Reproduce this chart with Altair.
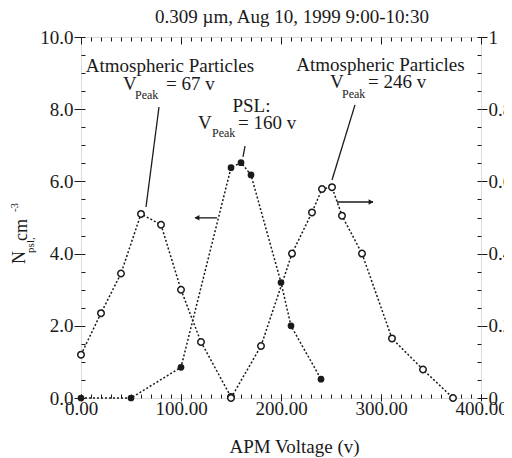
import altair as alt
import pandas as pd

# ---------------- data ----------------
# PSL (filled dots, left axis, N_psl in cm^-3)
psl_v = [0, 50, 100, 150, 160, 170, 200, 210, 240]
psl_n = [0.0, 0.0, 0.85, 6.38, 6.52, 6.18, 3.2, 2.0, 0.52]

# Atmospheric particles, V_peak = 67 v (open circles, right axis)
atm1_v = [0, 20, 40, 60, 80, 100, 120, 150]
atm1_f = [0.12, 0.235, 0.345, 0.51, 0.48, 0.30, 0.155, 0.003]

# Atmospheric particles, V_peak = 246 v (open circles, right axis)
atm2_v = [150, 180, 211, 231, 241, 251, 261, 281, 311, 342, 372]
atm2_f = [0.0, 0.144, 0.40, 0.514, 0.579, 0.584, 0.505, 0.40, 0.165, 0.079, 0.0]

x_ticks = [0, 100, 200, 300, 400]
yl_ticks = [0, 2, 4, 6, 8, 10]
yr_ticks = [0, 0.2, 0.4, 0.6, 0.8, 1.0]

title_text = "0.309 \u00b5m, Aug 10, 1999 9:00-10:30"
x_title = "APM Voltage (v)"

# annotations (data coordinates: voltage, left-axis units)
ann_center_txt = ["Atmospheric Particles", "Atmospheric Particles", "PSL:"]
ann_center_v = [89, 299.5, 170.5]
ann_center_n = [9.20, 9.22, 8.09]

ann_left_txt = ["V", "= 67 v", "V", "= 160  v", "V", "= 246 v"]
ann_left_v = [42, 85, 117, 157, 249, 287]
ann_left_n = [8.70, 8.70, 7.62, 7.62, 8.75, 8.75]

ann_sub_txt = ["Peak", "Peak", "Peak"]
ann_sub_v = [54, 131, 261]
ann_sub_n = [8.39, 7.34, 8.42]

lead_v = [78, 164, 274, 114, 256]
lead_v2 = [65, 162, 251, 136, 292]
lead_n = [8.06, 6.98, 8.12, 4.99, 5.43]
lead_n2 = [5.29, 6.68, 6.04, 4.99, 5.43]

head_v = [116, 290]
head_n = [4.99, 5.43]
head_shape = ["triangle-left", "triangle-right"]

ytitle_big_txt = ["N", "cm"]
ytitle_big_v = [-61, -59]
ytitle_big_n = [3.71, 4.35]
ytitle_small_txt = ["psl,", "-3"]
ytitle_small_v = [-50, -66]
ytitle_small_n = [4.02, 5.15]

# ---------------- styling ----------------
FONT = "Liberation Serif"
INK = "#1a1a1a"
FS = 19

psl = pd.DataFrame({"v": psl_v, "n": psl_n})
atm1 = pd.DataFrame({"v": atm1_v, "f": atm1_f})
atm2 = pd.DataFrame({"v": atm2_v, "f": atm2_f})

xs = alt.Scale(domain=[0, 400], nice=False, zero=False)
yl = alt.Scale(domain=[0, 10], nice=False, zero=False)
yr = alt.Scale(domain=[0, 1], nice=False, zero=False)

x_main = alt.Axis(orient="bottom", values=x_ticks, format=".2f", labelFont=FONT,
                  labelFontSize=FS, labelColor=INK, tickSize=0, labelPadding=1,
                  labelFlush=False, domain=False, grid=False, title=x_title,
                  titleFont=FONT, titleFontSize=FS, titleFontWeight="normal",
                  titleColor=INK, titleX=213, titleY=39)
x_minor_bottom = alt.Axis(orient="bottom", values=list(range(0, 401, 10)), labels=False,
                          domain=False, grid=False, tickSize=4, offset=-4,
                          tickColor=INK, title=None)
x_minor_top = alt.Axis(orient="top", values=list(range(0, 401, 10)), labels=False,
                       domain=False, grid=False, tickSize=4, offset=-4,
                       tickColor=INK, title=None)
x_major_top = alt.Axis(orient="top", values=x_ticks, labels=False,
                       domain=False, grid=False, tickSize=7, offset=-7,
                       tickColor=INK, title=None)
x_major_bottom = alt.Axis(orient="bottom", values=x_ticks, labels=False,
                          domain=False, grid=False, tickSize=7, offset=-4,
                          tickColor=INK, title=None)

y_main = alt.Axis(orient="left", values=yl_ticks, format=".1f", labelFont=FONT,
                  labelFontSize=FS, labelColor=INK, tickSize=7, tickColor=INK,
                  labelPadding=1, labelFlush=False, domain=False, grid=False, title=None)
y_minor_left = alt.Axis(orient="left", values=[i * 0.5 for i in range(21)], labels=False,
                        domain=False, grid=False, tickSize=4, offset=-4,
                        tickColor=INK, title=None)
y_right = alt.Axis(orient="right", values=yr_ticks, format=".1~f", labelFont=FONT,
                   labelFontSize=FS, labelColor=INK, tickSize=6, tickColor=INK,
                   labelPadding=1, labelFlush=False, domain=False, grid=False, title=None)
y_minor_right = alt.Axis(orient="right", values=[i * 0.05 for i in range(21)], labels=False,
                         domain=False, grid=False, tickSize=4, offset=-4,
                         tickColor=INK, title=None)

dash = [2, 2]

psl_line = alt.Chart(psl).mark_line(strokeDash=dash, strokeWidth=1.5, color=INK).encode(
    x=alt.X("v:Q", scale=xs, axis=x_main),
    y=alt.Y("n:Q", scale=yl, axis=y_main))
psl_pts = alt.Chart(psl).mark_circle(size=45, color=INK, opacity=1).encode(
    x=alt.X("v:Q", scale=xs, axis=x_minor_bottom),
    y=alt.Y("n:Q", scale=yl, axis=y_minor_left))

atm1_line = alt.Chart(atm1).mark_line(strokeDash=dash, strokeWidth=1.5, color=INK).encode(
    x=alt.X("v:Q", scale=xs, axis=x_minor_top),
    y=alt.Y("f:Q", scale=yr, axis=y_right))
atm1_pts = alt.Chart(atm1).mark_circle(size=42, fill="white", stroke=INK, strokeWidth=1.5,
                                       opacity=1).encode(
    x=alt.X("v:Q", scale=xs, axis=x_major_top),
    y=alt.Y("f:Q", scale=yr, axis=y_minor_right))

atm2_line = alt.Chart(atm2).mark_line(strokeDash=dash, strokeWidth=1.5, color=INK).encode(
    x=alt.X("v:Q", scale=xs, axis=x_major_bottom),
    y=alt.Y("f:Q", scale=yr, axis=None))
atm2_pts = alt.Chart(atm2).mark_circle(size=42, fill="white", stroke=INK, strokeWidth=1.5,
                                       opacity=1).encode(
    x=alt.X("v:Q", scale=xs, axis=None),
    y=alt.Y("f:Q", scale=yr, axis=None))

def txt_layer(df, **mark):
    return alt.Chart(df).mark_text(font=FONT, color=INK, **mark).encode(
        x=alt.X("v:Q", scale=xs, axis=None),
        y=alt.Y("n:Q", scale=yl, axis=None),
        text="t:N")

ann_c = txt_layer(pd.DataFrame({"v": ann_center_v, "n": ann_center_n, "t": ann_center_txt}),
                  fontSize=FS, align="center", baseline="middle")
ann_l = txt_layer(pd.DataFrame({"v": ann_left_v, "n": ann_left_n, "t": ann_left_txt}),
                  fontSize=FS, align="left", baseline="middle")
ann_s = txt_layer(pd.DataFrame({"v": ann_sub_v, "n": ann_sub_n, "t": ann_sub_txt}),
                  fontSize=12, align="left", baseline="middle")

leads = alt.Chart(pd.DataFrame({"v": lead_v, "v2": lead_v2, "n": lead_n, "n2": lead_n2})
                  ).mark_rule(color=INK, strokeWidth=1.3).encode(
    x=alt.X("v:Q", scale=xs, axis=None), x2="v2:Q",
    y=alt.Y("n:Q", scale=yl, axis=None), y2="n2:Q")
heads = alt.Chart(pd.DataFrame({"v": head_v, "n": head_n, "s": head_shape})
                  ).mark_point(filled=True, size=30, color=INK, opacity=1).encode(
    x=alt.X("v:Q", scale=xs, axis=None),
    y=alt.Y("n:Q", scale=yl, axis=None),
    shape=alt.Shape("s:N", scale=None))

yt_big = txt_layer(pd.DataFrame({"v": ytitle_big_v, "n": ytitle_big_n, "t": ytitle_big_txt}),
                   fontSize=18, align="left", baseline="middle", angle=270)
yt_small = txt_layer(pd.DataFrame({"v": ytitle_small_v, "n": ytitle_small_n, "t": ytitle_small_txt}),
                     fontSize=11, align="left", baseline="middle", angle=270)

chart = alt.layer(
    psl_line, psl_pts, atm1_line, atm1_pts, atm2_line, atm2_pts,
    ann_c, ann_l, ann_s, leads, heads, yt_big, yt_small
).resolve_scale(y="independent").resolve_axis(x="independent", y="independent").properties(
    width=400, height=361,
    autosize="none",
    padding={"left": 73, "top": 29, "right": 23, "bottom": 60},
    title=alt.TitleParams(title_text, font=FONT, fontSize=FS, fontWeight="normal",
                          color=INK, anchor="middle", frame="group", dx=11, offset=1),
).configure_view(stroke=INK, strokeWidth=1.5).configure(background="white")

chart.save("out.html", embed_options={"renderer": "svg", "actions": False})
